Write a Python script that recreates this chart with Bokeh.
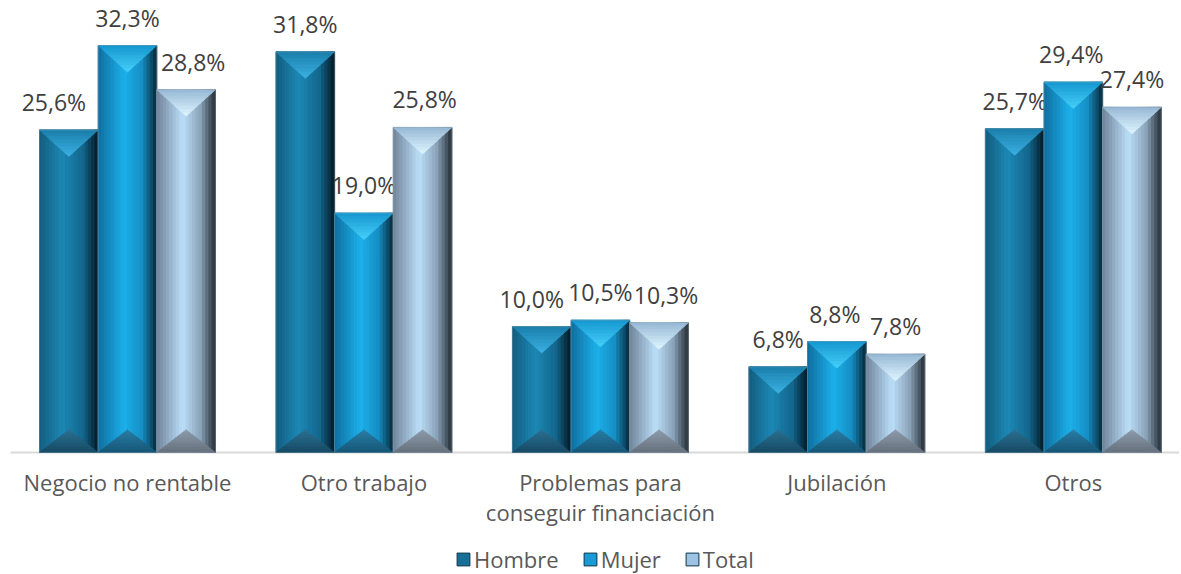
from bokeh.plotting import figure
from bokeh.models import Range1d, Legend, LegendItem
from bokeh.core.properties import value
from bokeh.embed import file_html
from bokeh.resources import INLINE

categories = ["Negocio no rentable", "Otro trabajo",
              "Problemas para\nconseguir financiación", "Jubilación", "Otros"]
series = ["Hombre", "Mujer", "Total"]
hombre = [25.6, 31.8, 10.0, 6.8, 25.7]
mujer = [32.3, 19.0, 10.5, 8.8, 29.4]
total = [28.8, 25.8, 10.3, 7.8, 27.4]
values_by_series = [hombre, mujer, total]

# label nudges in screen pixels (style, as in the original layout)
label_dx = [[-15, 0, -10, 0, 0], [0, 0, 0, -2, -2], [7, 2, 7, 0, 0]]

FONT = "Open Sans"
BAR_W = 0.248
OFFSETS = [-BAR_W, 0.0, BAR_W]

side_stops = [
    [(0.0, "#135c7e"), (0.4, "#1c88b5"), (0.75, "#13668c"), (1.0, "#031a26")],
    [(0.0, "#0f6d9e"), (0.45, "#1cb0ea"), (0.75, "#168fc4"), (1.0, "#072a3c")],
    [(0.0, "#6f8398"), (0.45, "#bcdff9"), (0.75, "#8aa3b8"), (1.0, "#262f38")],
]
top_tri = [("#1a7eaa", "#3ab0e2"), ("#1596cf", "#45cff9"), ("#96b7d4", "#ddf5ff")]
bot_tri = [("#2d7193", "#164b64"), ("#2b7ea6", "#165677"), ("#8e9cab", "#66717e")]
legend_colors = ["#176f98", "#1a9bd5", "#9cc3e3"]


def hx(c):
    return tuple(int(c[i:i + 2], 16) for i in (1, 3, 5))


def mix(a, b, t):
    a, b = hx(a), hx(b)
    return "#%02x%02x%02x" % tuple(round(a[i] + (b[i] - a[i]) * t) for i in range(3))


def grad(stops, t):
    for (p0, c0), (p1, c1) in zip(stops, stops[1:]):
        if t <= p1:
            return mix(c0, c1, (t - p0) / (p1 - p0))
    return stops[-1][1]


p = figure(frame_width=1179, frame_height=566, output_backend="svg",
           toolbar_location=None,
           x_range=Range1d(-0.037, 4.949), y_range=Range1d(-9.683, 35.24),
           x_axis_type=None, y_axis_type=None,
           min_border_left=0, min_border_right=0, min_border_top=8,
           min_border_bottom=0)
p.outline_line_color = None
p.xgrid.visible = False
p.ygrid.visible = False
p.background_fill_color = "white"

# baseline (category axis line)
p.segment(x0=[0.005], y0=[0], x1=[4.949], y1=[0], line_color="#d9d9d9",
          line_width=2)

NS = 18
TOP_H = 2.1
BOT_H = 1.8
K = 8
legend_items = []
for s, vals in enumerate(values_by_series):
    L, R, T, B, C = [], [], [], [], []
    txs, tys, tcs = [], [], []
    for i, v in enumerate(vals):
        x0 = i + 0.5 + OFFSETS[s] - BAR_W / 2
        for k in range(NS):
            L.append(x0 + BAR_W * k / NS)
            R.append(x0 + BAR_W * (k + 1) / NS)
            T.append(v)
            B.append(0)
            C.append(grad(side_stops[s], (k + 0.5) / NS))
        x1 = x0 + BAR_W
        for k in range(K):
            a, b = k / K, (k + 1) / K
            ya, yb = v - TOP_H * a, v - TOP_H * b
            txs.append([x0 + BAR_W / 2 * a, x1 - BAR_W / 2 * a,
                        x1 - BAR_W / 2 * b, x0 + BAR_W / 2 * b])
            tys.append([ya, ya, yb, yb])
            tcs.append(mix(top_tri[s][0], top_tri[s][1], (k + 0.5) / K))
        for k in range(K):
            a, b = k / K, (k + 1) / K
            ya, yb = BOT_H * (1 - a), BOT_H * (1 - b)
            txs.append([x0 + BAR_W / 2 * (1 - a), x1 - BAR_W / 2 * (1 - a),
                        x1 - BAR_W / 2 * (1 - b), x0 + BAR_W / 2 * (1 - b)])
            tys.append([ya, ya, yb, yb])
            tcs.append(mix(bot_tri[s][0], bot_tri[s][1], (k + 0.5) / K))
    p.quad(left=L, right=R, top=T, bottom=B, fill_color=C, line_color=C,
           line_width=1)
    p.patches(xs=txs, ys=tys, fill_color=tcs, line_color=tcs, line_width=0.8)
    xs = [i + 0.5 + OFFSETS[s] for i in range(len(vals))]
    p.rect(x=xs, y=[v / 2 for v in vals], width=BAR_W, height=vals,
           fill_color=None, line_color="#8a9aa6", line_alpha=0.4, line_width=1)
    labels = [f"{v:.1f}".replace(".", ",") + "%" for v in vals]
    p.text(x=xs, y=vals, text=labels, x_offset=label_dx[s],
           text_align="center", text_baseline="bottom",
           y_offset=-12, text_font=value(FONT), text_font_size="23px",
           text_color="#404040")
    dummy = p.quad(left=[-10], right=[-9], top=[-20], bottom=[-21],
                   fill_color=legend_colors[s], line_color="#0b3448", line_width=1)
    legend_items.append(LegendItem(label=series[s], renderers=[dummy]))

# category labels under the baseline
p.text(x=[i + 0.5 for i in range(len(categories))], y=[0] * len(categories),
       text=categories, text_align="center", text_baseline="top", y_offset=14,
       text_font=value(FONT), text_font_size="22px", text_color="#595959",
       text_line_height=1.0)

legend = Legend(items=legend_items, orientation="horizontal",
                location=(455, 0),
                label_text_font=FONT, label_text_font_size="22px",
                label_text_color="#595959", glyph_width=16, glyph_height=16,
                label_standoff=3, spacing=23, padding=0, margin=0,
                border_line_color=None, background_fill_alpha=0)
p.add_layout(legend, "center")

open("out.html", "w").write(file_html(p, INLINE))
